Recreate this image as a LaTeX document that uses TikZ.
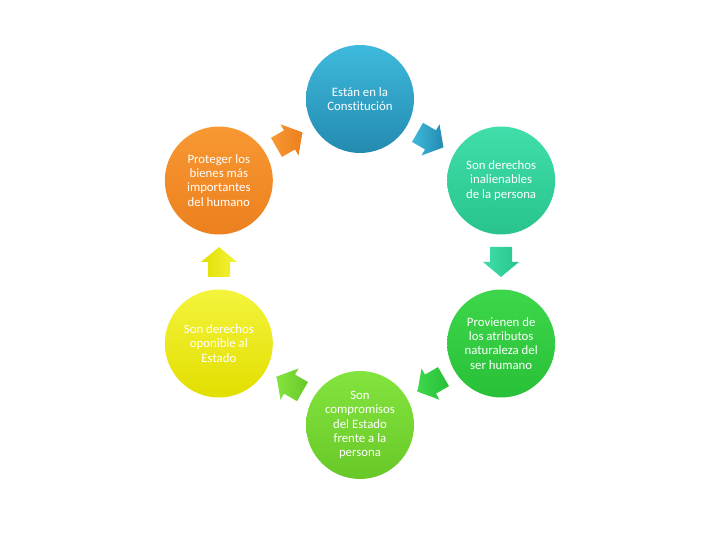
\documentclass[tikz,border=0pt]{standalone}
\usepackage{fontspec}
\setmainfont{Carlito}[Ligatures={NoCommon}]
\usetikzlibrary{calc}
\definecolor{blueA}{RGB}{62,186,220}
\definecolor{blueB}{RGB}{36,138,176}
\definecolor{tealA}{RGB}{64,222,170}
\definecolor{tealB}{RGB}{40,196,140}
\definecolor{greenA}{RGB}{62,214,74}
\definecolor{greenB}{RGB}{40,192,56}
\definecolor{limeA}{RGB}{132,228,62}
\definecolor{limeB}{RGB}{104,200,40}
\definecolor{yelA}{RGB}{244,244,60}
\definecolor{yelB}{RGB}{226,222,0}
\definecolor{oraA}{RGB}{248,152,50}
\definecolor{oraB}{RGB}{236,128,30}
\tikzset{
  bubble/.style={circle, minimum size=108pt, inner sep=0pt},
  btext/.style={text=white, align=center, font=\fontsize{12.8}{14.2}\selectfont},
}
\newcommand\blockarrow[5]{% name, center, angle, colorA, colorB
  \begin{scope}[shift={#2}, rotate=#3]
    \coordinate (#1) at (0,0);
    \shade[left color=#4, right color=#5]
      (-15,-11) -- (0,-11) -- (0,-18) -- (15,0) -- (0,18) -- (0,11) -- (-15,11) -- cycle;
  \end{scope}}
\begin{document}
\begin{tikzpicture}[x=1pt,y=1pt]
\useasboundingbox (0,0) rectangle (720,540);
\coordinate (c) at (360,278);
% circles
\node[bubble, top color=blueA, bottom color=blueB] (n1) at ($(c)+(90:163)$) {};
\node[bubble, top color=tealA, bottom color=tealB] (n2) at ($(c)+(30:163)$) {};
\node[bubble, top color=greenA, bottom color=greenB] (n3) at ($(c)+(-30:163)$) {};
\node[bubble, top color=limeA, bottom color=limeB] (n4) at ($(c)+(-90:163)$) {};
\node[bubble, top color=yelA, bottom color=yelB] (n5) at ($(c)+(-150:163)$) {};
\node[bubble, top color=oraA, bottom color=oraB] (n6) at ($(c)+(150:163)$) {};
% texts
\node[btext] (t1) at (n1) {Están en la\\Constitución};
\node[btext] (t2) at (n2) {Son derechos\\inalienables\\de la persona};
\node[btext] (t3) at (n3) {Provienen de\\los atributos\\naturaleza del\\ser humano};
\node[btext] (t4) at (n4) {Son\\compromisos\\del Estado\\frente a la\\persona};
\node[btext] (t5) at (n5) {Son derechos\\oponible al\\Estado};
\node[btext] (t6) at (n6) {Proteger los\\bienes más\\importantes\\del humano};
% arrows
\blockarrow{a1}{($(c)+(60:141)$)}{-30}{blueA}{blueB}
\blockarrow{a2}{($(c)+(0:141)$)}{-90}{tealA}{tealB}
\blockarrow{a3}{($(c)+(-60:141)$)}{-150}{greenA}{greenB}
\blockarrow{a4}{($(c)+(-120:141)$)}{150}{limeA}{limeB}
\blockarrow{a5}{($(c)+(180:141)$)}{90}{yelB}{yelA}
\blockarrow{a6}{($(c)+(120:141)$)}{30}{oraA}{oraB}
\end{tikzpicture}
\end{document}
